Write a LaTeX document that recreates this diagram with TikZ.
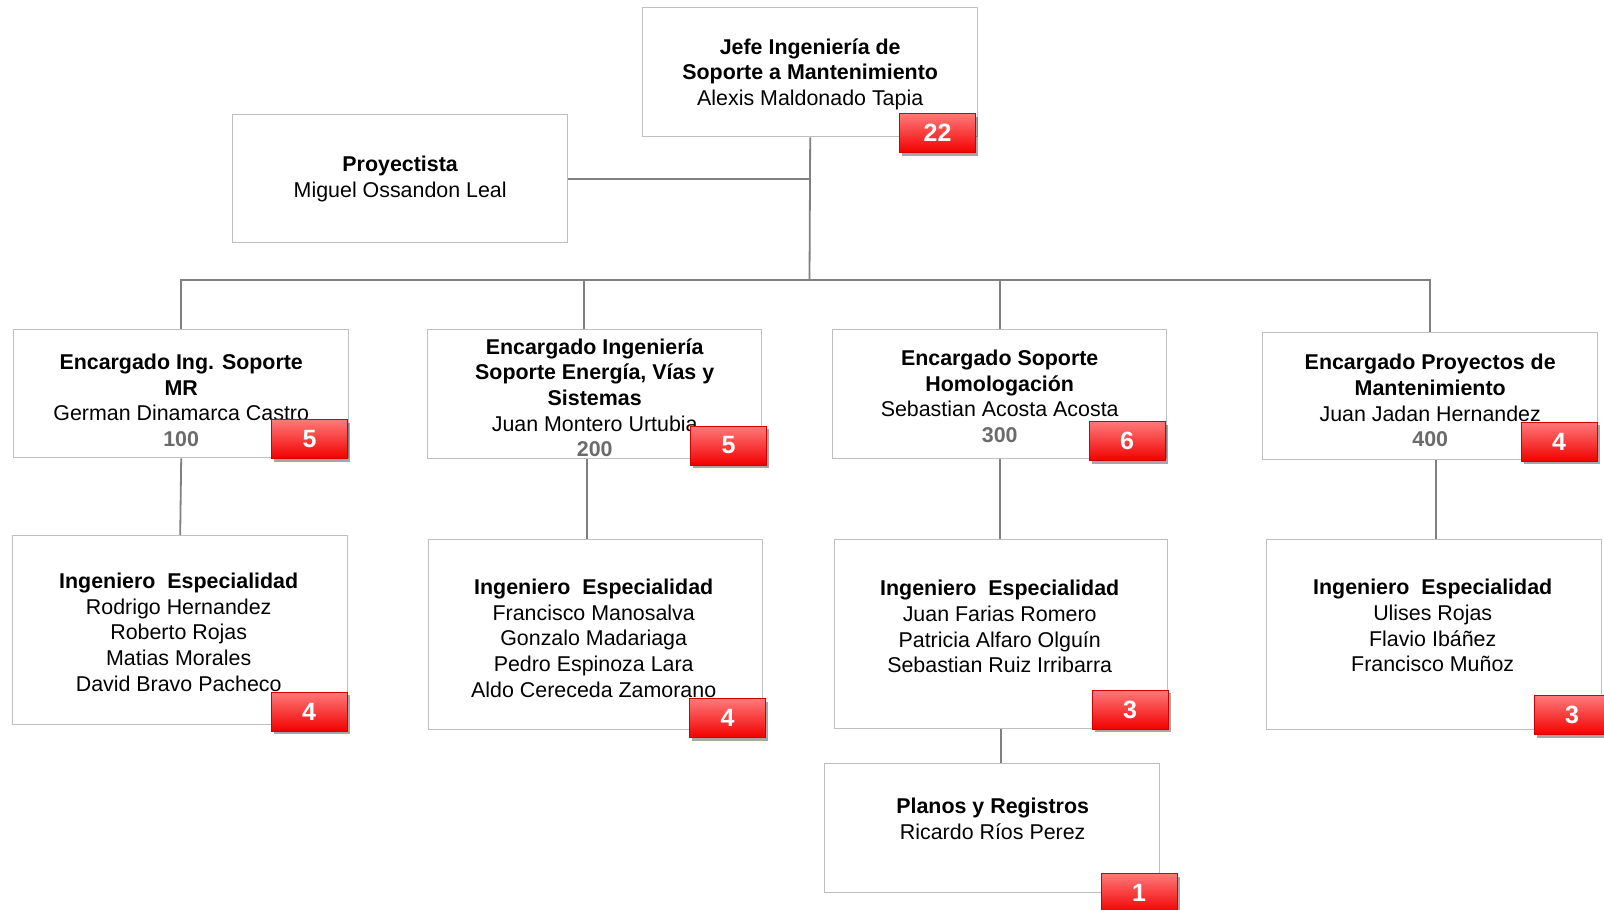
\documentclass[tikz,border=0pt]{standalone}
\usepackage{fontspec}
\setmainfont{Liberation Sans}
\usetikzlibrary{shadows,calc}
\definecolor{boxline}{HTML}{BFBFBF}
\definecolor{connc}{HTML}{808080}
\definecolor{numgray}{HTML}{6B6B6B}
\definecolor{badgetop}{HTML}{FF7A7A}
\definecolor{badgebot}{HTML}{F20000}
\definecolor{badgeline}{HTML}{D00000}
\tikzset{
  orgbox/.style={draw=boxline, line width=1.4pt, fill=white, inner sep=0pt, anchor=north west},
  txt/.style={align=center, inner sep=0pt, font=\fontsize{21.4}{25.6}\selectfont},
  badge/.style={draw=badgeline, line width=1pt, top color=badgetop, bottom color=badgebot,
    minimum width=76pt, minimum height=39pt, inner sep=0pt, text=white,
    font=\fontsize{25}{25}\selectfont\bfseries,
    drop shadow={shadow xshift=2.5pt, shadow yshift=-3pt, opacity=0.35, fill=black}},
  conn/.style={draw=connc, line width=1.8pt}
}
\newcommand{\nb}[1]{\textcolor{numgray}{\textbf{#1}}}
\begin{document}
\begin{tikzpicture}[x=1pt,y=-1pt]
\useasboundingbox[fill=white] (0,0) rectangle (1604,910);

% boxes
\node[orgbox, minimum width=335pt, minimum height=129pt] (top) at (642,7) {};
\node[orgbox, minimum width=335pt, minimum height=128pt] (pro) at (232,114) {};
\node[orgbox, minimum width=335pt, minimum height=128pt] (b1) at (13,329) {};
\node[orgbox, minimum width=334pt, minimum height=129pt] (b2) at (427,329) {};
\node[orgbox, minimum width=334pt, minimum height=129pt] (b3) at (832,329) {};
\node[orgbox, minimum width=335pt, minimum height=127pt] (b4) at (1262,332) {};
\node[orgbox, minimum width=335pt, minimum height=189pt] (i1) at (12,535) {};
\node[orgbox, minimum width=334pt, minimum height=190pt] (i2) at (428,539) {};
\node[orgbox, minimum width=333pt, minimum height=189pt] (i3) at (834,539) {};
\node[orgbox, minimum width=335pt, minimum height=190pt] (i4) at (1266,539) {};
\node[orgbox, minimum width=335pt, minimum height=129pt] (pl) at (824,763) {};

% connectors
\coordinate (bus) at (809.5,280);
\coordinate (b2top) at ([xshift=-11pt]b2.north);
\coordinate (b2bot) at ([xshift=-8pt]b2.south);
\coordinate (b4bot) at ([xshift=6pt]b4.south);
\draw[conn] (top.south) -- (bus);
\draw[conn] (pro.east) -- (pro.east -| top.south);
\draw[conn] (b1.north) -- (b1.north |- bus) -- (b4.north |- bus) -- (b4.north);
\draw[conn] (b2top) -- (b2top |- bus);
\draw[conn] (b3.north) -- (b3.north |- bus);
\draw[conn] (b1.south) -- (i1.north);
\draw[conn] (b2bot) -- (b2bot |- i2.north);
\draw[conn] (b3.south) -- (b3.south |- i3.north);
\draw[conn] (b4bot) -- (b4bot |- i4.north);
\draw[conn] (i3.south) -- (i3.south |- pl.north);

% texts
\node[txt] (topt) at ($(top.center)+(0,2)$) {\textbf{Jefe Ingeniería de}\\\textbf{Soporte a Mantenimiento}\\Alexis Maldonado Tapia};
\node[txt] (prot) at ($(pro.center)+(0,0.5)$) {\textbf{Proyectista}\\Miguel Ossandon Leal};
\node[txt] (b1t) at ($(b1.center)+(0,6.5)$) {\textbf{Encargado Ing. Soporte}\\\textbf{MR}\\German Dinamarca Castro\\\nb{100}};
\node[txt] (b2t) at ($(b2.center)+(0,3.5)$) {\textbf{Encargado Ingeniería}\\\textbf{Soporte Energía, Vías y}\\\textbf{Sistemas}\\Juan Montero Urtubia\\\nb{200}};
\node[txt] (b3t) at ($(b3.center)+(0,2)$) {\textbf{Encargado Soporte}\\\textbf{Homologación}\\Sebastian Acosta Acosta\\\nb{300}};
\node[txt] (b4t) at ($(b4.center)+(0,4.5)$) {\textbf{Encargado Proyectos de}\\\textbf{Mantenimiento}\\Juan Jadan Hernandez\\\nb{400}};
\node[txt] (i1t) at ($(i1.center)+(-1.5,2)$) {\textbf{Ingeniero\ \ Especialidad}\\Rodrigo Hernandez\\Roberto Rojas\\Matias Morales\\David Bravo Pacheco};
\node[txt] (i2t) at ($(i2.center)+(-2,3.5)$) {\textbf{Ingeniero\ \ Especialidad}\\Francisco Manosalva\\Gonzalo Madariaga\\Pedro Espinoza Lara\\Aldo Cereceda Zamorano};
\node[txt] (i3t) at ($(i3.center)+(-1.5,-7.5)$) {\textbf{Ingeniero\ \ Especialidad}\\Juan Farias Romero\\Patricia Alfaro Olguín\\Sebastian Ruiz Irribarra};
\node[txt] (i4t) at ($(i4.center)+(-1.5,-9)$) {\textbf{Ingeniero\ \ Especialidad}\\Ulises Rojas\\Flavio Ibáñez\\Francisco Muñoz};
\node[txt] (plt) at ($(pl.center)+(0.5,-9.5)$) {\textbf{Planos y Registros}\\Ricardo Ríos Perez};

% badges
\node[badge] (topn) at (937.5,133) {22};
\node[badge] (b1n) at (309.5,439) {5};
\node[badge] (b2n) at (728.5,445.5) {5};
\node[badge] (b3n) at (1127,441) {6};
\node[badge] (b4n) at (1559,441.5) {4};
\node[badge] (i1n) at (309,711.5) {4};
\node[badge] (i2n) at (727.5,718) {4};
\node[badge] (i3n) at (1130,709.5) {3};
\node[badge] (i4n) at (1572,715) {3};
\node[badge] (pln) at (1139,893) {1};
\end{tikzpicture}
\end{document}
